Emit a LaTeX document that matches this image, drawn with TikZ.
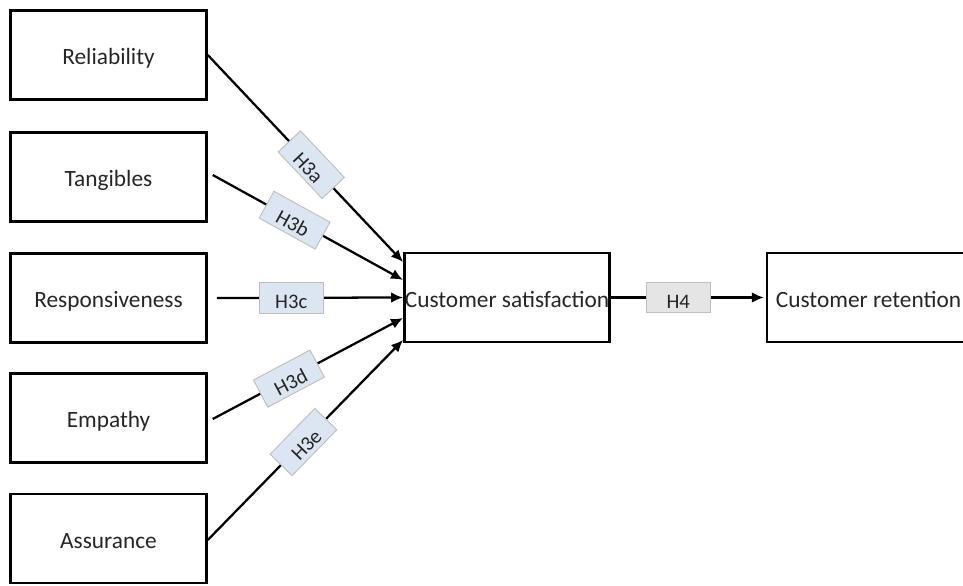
\documentclass[tikz,border=0pt]{standalone}
\usepackage{fontspec}
\setmainfont{Carlito}
\usetikzlibrary{arrows.meta,calc}
\definecolor{hypblue}{RGB}{220,230,242}
\definecolor{hypgray}{RGB}{229,229,229}
\definecolor{hypline}{RGB}{190,190,190}

\begin{document}
\begin{tikzpicture}[line join=miter,>={Latex[length=9pt,width=8pt]},x=0.75pt,y=0.75pt,
    construct/.style={draw,line width=1.9pt,minimum width=147pt,minimum height=66.5pt,inner sep=0pt,text height=15pt,text depth=0pt,text=black!85,font=\fontsize{17.5}{20}\selectfont},
    link/.style={->,line width=1.7pt},
    hyp/.style={draw=hypline,line width=0.7pt,fill=hypblue,minimum width=48pt,minimum height=23pt,inner sep=0pt,text height=16.5pt,text depth=0pt,text=black!85,font=\fontsize{15.5}{18}\selectfont}]
    \useasboundingbox (0,0) rectangle (963,585);
    \clip (0,0) rectangle (963,585);
    % dimensions of service quality
    \node[construct] (rel) at (108.5,530) {Reliability};
    \node[construct] (tan) at (108.5,408) {Tangibles};
    \node[construct] (res) at (108.5,287) {Responsiveness};
    \node[construct] (emp) at (108.5,167) {Empathy};
    \node[construct] (ass) at (108.5,46.5) {Assurance};
    % outcomes
    \node[construct,minimum width=154pt] (sat) at (507,287.5) {Customer satisfaction};
    \node[construct,minimum width=152pt] (ret) at (868.5,287.5) {Customer retention};
    % hypotheses
    \draw[link] (rel.east) -- ($(sat.west)+(0,35.5)$) node[hyp,sloped,pos=0.53] {H3a};
    \draw[link] ($(tan.east)+(5,2)$) -- ($(sat.west)+(0,17.5)$) node[hyp,sloped,pos=0.43] {H3b};
    \draw[link] ($(res.east)+(9,0)$) -- (sat.west) node[hyp,pos=0.4] {H3c};
    \draw[link] ($(emp.east)+(5,-1)$) -- ($(sat.west)+(0,-20.5)$) node[hyp,sloped,pos=0.4] {H3d};
    \draw[link] ($(ass.east)+(0,-1.5)$) -- ($(sat.west)+(0,-42.5)$) node[hyp,sloped,pos=0.49] {H3e};
    \draw[link] (sat.east) -- ($(ret.west)+(-2,0)$) node[hyp,fill=hypgray,pos=0.44] {H4};
\end{tikzpicture}
\end{document}
